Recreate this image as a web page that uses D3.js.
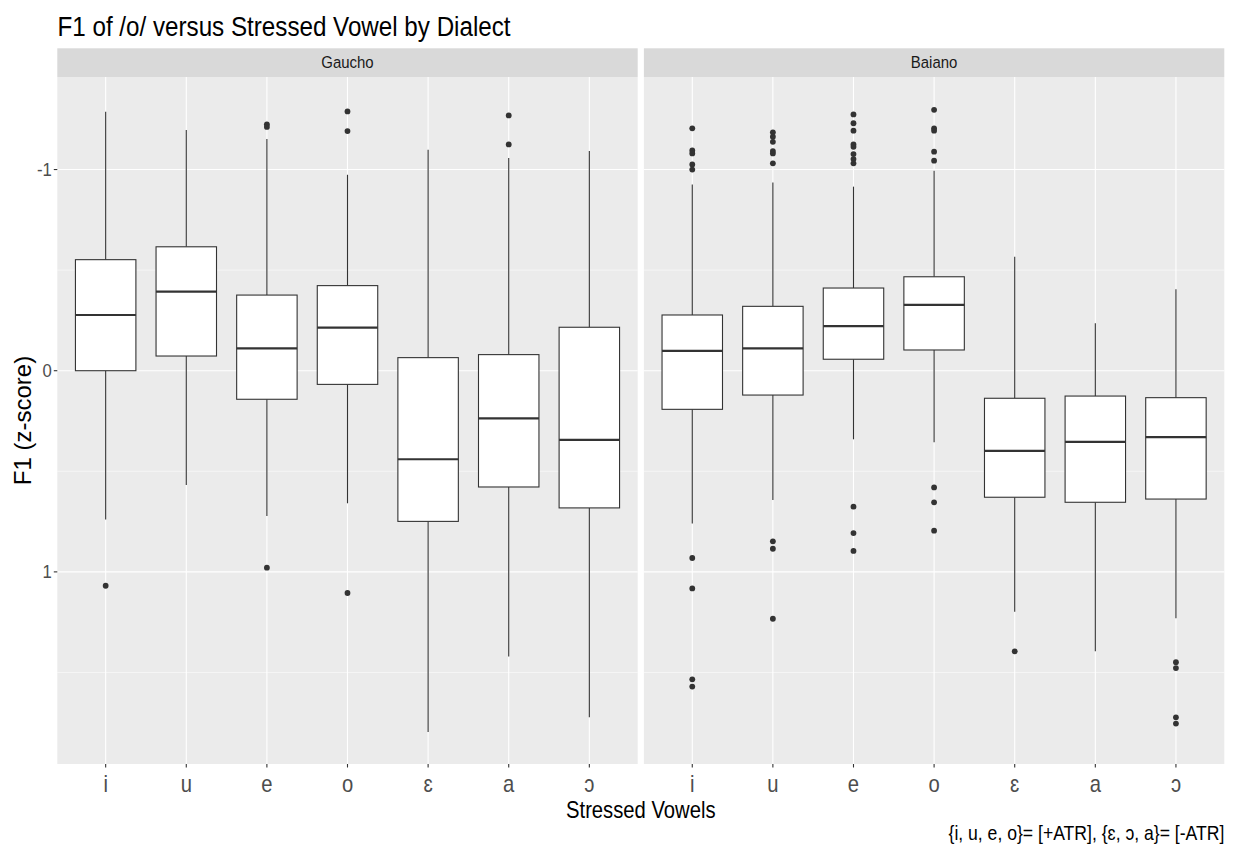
<!DOCTYPE html>
<html>
<head>
<meta charset="utf-8">
<script src="https://cdn.jsdelivr.net/npm/d3@7"></script>
<style>
  html, body { margin: 0; padding: 0; background: #ffffff; }
  svg { display: block; font-family: "Liberation Sans", Arial, sans-serif; }
</style>
</head>
<body>
<svg id="chart" width="1237" height="846"></svg>
<script>
// Stressed vowels on the x axis, one panel per dialect
const vowels = ["i", "u", "e", "o", "ɛ", "a", "ɔ"];
const dialects = ["Gaucho", "Baiano"];
const yTicks = [-1, 0, 1];
const yTickLabels = ["-1", "0", "1"];

// Box statistics (z-scored F1 of /o/), in vowel order
const gauchoLow    = [-1.287, -1.196, -1.152, -0.974, -1.098, -1.057, -1.092];
const gauchoQ1     = [-0.552, -0.616, -0.376, -0.423, -0.065, -0.080, -0.216];
const gauchoMedian = [-0.277, -0.393, -0.111, -0.214,  0.440,  0.237,  0.344];
const gauchoQ3     = [ 0.000, -0.073,  0.142,  0.068,  0.749,  0.578,  0.682];
const gauchoHigh   = [ 0.739,  0.568,  0.722,  0.659,  1.796,  1.421,  1.723];
const gauchoOutliers = [
  [1.069],
  [],
  [-1.225, -1.212, 0.979],
  [-1.289, -1.191, 1.105],
  [],
  [-1.269, -1.125],
  []
];

const baianoLow    = [-0.926, -0.936, -0.915, -0.994, -0.567, -0.236, -0.405];
const baianoQ1     = [-0.277, -0.320, -0.411, -0.467,  0.137,  0.126,  0.134];
const baianoMedian = [-0.099, -0.111, -0.222, -0.327,  0.398,  0.354,  0.330];
const baianoQ3     = [ 0.192,  0.121, -0.057, -0.103,  0.629,  0.654,  0.638];
const baianoHigh   = [ 0.759,  0.643,  0.341,  0.356,  1.198,  1.395,  1.231];
const baianoOutliers = [
  [-1.205, -1.095, -1.080, -1.025, -1.000, 0.931, 1.082, 1.534, 1.570],
  [-1.185, -1.163, -1.138, -1.092, -1.080, -1.031, 0.848, 0.885, 1.233],
  [-1.274, -1.230, -1.193, -1.125, -1.113, -1.077, -1.052, -1.031, 0.676, 0.807, 0.896],
  [-1.297, -1.205, -1.193, -1.089, -1.044, 0.580, 0.654, 0.795],
  [1.395],
  [],
  [1.449, 1.478, 1.723, 1.754]
];

const titleText = "F1 of /o/ versus Stressed Vowel by Dialect";
const xTitle = "Stressed Vowels";
const yTitle = "F1 (z-score)";
const captionText = "{i, u, e, o}= [+ATR], {ɛ, ɔ, a}= [-ATR]";

function boxRows(low, q1, med, q3, high, outs) {
  return vowels.map((v, i) => ({ vowel: v, low: low[i], q1: q1[i], med: med[i], q3: q3[i], high: high[i], outliers: outs[i] }));
}
const panelData = [
  boxRows(gauchoLow, gauchoQ1, gauchoMedian, gauchoQ3, gauchoHigh, gauchoOutliers),
  boxRows(baianoLow, baianoQ1, baianoMedian, baianoQ3, baianoHigh, baianoOutliers)
];

const svg = d3.select("#chart");
const squeeze = 0.88;   // condensed glyph width used for horizontal text

function label(sel, x, y, text, opts) {
  const g = sel.append("g").attr("transform", `translate(${x},${y}) scale(${opts.sx ?? squeeze},1)`);
  g.append("text")
    .attr("text-anchor", opts.anchor || "start")
    .attr("font-size", opts.size)
    .attr("fill", opts.fill || "#000")
    .text(text);
  return g;
}

const panelTop = 77, panelBottom = 764;
const panelX = [[57.3, 637.7], [643.9, 1224.3]];
const stripTop = 48.3;

const y = d3.scaleLinear().domain([-1.46, 1.955]).range([panelTop, panelBottom]);

// Title
label(svg, 57.5, 36, titleText, { size: 27.5, fill: "#000" });

dialects.forEach((dialect, p) => {
  const [x0, x1] = panelX[p];
  const x = d3.scalePoint().domain(vowels).range([x0, x1]).padding(0.6);
  const bw = x.step() * 0.75;
  const g = svg.append("g");

  // strip
  g.append("rect").attr("x", x0).attr("y", stripTop).attr("width", x1 - x0).attr("height", panelTop - stripTop).attr("fill", "#d9d9d9");
  label(g, (x0 + x1) / 2, 68, dialect, { size: 17, anchor: "middle", fill: "#1a1a1a" });

  // panel background
  g.append("rect").attr("x", x0).attr("y", panelTop).attr("width", x1 - x0).attr("height", panelBottom - panelTop).attr("fill", "#ebebeb");

  // minor grid
  g.selectAll(".minor").data([-0.5, 0.5, 1.5]).join("line")
    .attr("x1", x0).attr("x2", x1).attr("y1", d => y(d)).attr("y2", d => y(d))
    .attr("stroke", "#ffffff").attr("stroke-width", 0.55);
  // major grid
  g.selectAll(".majorY").data(yTicks).join("line")
    .attr("x1", x0).attr("x2", x1).attr("y1", d => y(d)).attr("y2", d => y(d))
    .attr("stroke", "#ffffff").attr("stroke-width", 1.1);
  g.selectAll(".majorX").data(vowels).join("line")
    .attr("x1", d => x(d)).attr("x2", d => x(d)).attr("y1", panelTop).attr("y2", panelBottom)
    .attr("stroke", "#ffffff").attr("stroke-width", 1.1);

  // x axis ticks and labels
  const xa = g.append("g").attr("transform", `translate(0,${panelBottom})`);
  xa.selectAll("line").data(vowels).join("line")
    .attr("x1", d => x(d)).attr("x2", d => x(d)).attr("y1", 0).attr("y2", 3.5)
    .attr("stroke", "#333333").attr("stroke-width", 1.1);
  vowels.forEach(v => label(xa, x(v), 28, v, { size: 23, anchor: "middle", fill: "#4d4d4d" }));

  // boxplots
  const rows = panelData[p];
  const bx = g.selectAll(".box").data(rows).join("g");
  bx.append("line")
    .attr("x1", d => x(d.vowel)).attr("x2", d => x(d.vowel))
    .attr("y1", d => y(d.low)).attr("y2", d => y(d.q1))
    .attr("stroke", "#333333").attr("stroke-width", 1.1);
  bx.append("line")
    .attr("x1", d => x(d.vowel)).attr("x2", d => x(d.vowel))
    .attr("y1", d => y(d.q3)).attr("y2", d => y(d.high))
    .attr("stroke", "#333333").attr("stroke-width", 1.1);
  bx.append("rect")
    .attr("x", d => x(d.vowel) - bw / 2).attr("width", bw)
    .attr("y", d => y(d.q1)).attr("height", d => y(d.q3) - y(d.q1))
    .attr("fill", "#ffffff").attr("stroke", "#333333").attr("stroke-width", 1.1);
  bx.append("line")
    .attr("x1", d => x(d.vowel) - bw / 2).attr("x2", d => x(d.vowel) + bw / 2)
    .attr("y1", d => y(d.med)).attr("y2", d => y(d.med))
    .attr("stroke", "#333333").attr("stroke-width", 2.2);
  bx.selectAll("circle").data(d => d.outliers.map(o => ({ vowel: d.vowel, v: o }))).join("circle")
    .attr("cx", d => x(d.vowel)).attr("cy", d => y(d.v)).attr("r", 2.9)
    .attr("fill", "#333333");
});

// y axis (left panel only)
const ya = svg.append("g").attr("transform", `translate(${panelX[0][0]},0)`);
ya.selectAll("line").data(yTicks).join("line")
  .attr("x1", -3.5).attr("x2", 0).attr("y1", d => y(d)).attr("y2", d => y(d))
  .attr("stroke", "#333333").attr("stroke-width", 1.1);
yTicks.forEach((t, i) => label(ya, -5.5, y(t) + 6.5, yTickLabels[i], { size: 19, anchor: "end", fill: "#4d4d4d" }));

// axis titles
label(svg, (panelX[0][0] + panelX[1][1]) / 2, 818, xTitle, { size: 23, anchor: "middle", fill: "#000" });
svg.append("text")
  .attr("transform", `translate(31,${(panelTop + panelBottom) / 2}) rotate(-90)`)
  .attr("text-anchor", "middle").attr("font-size", 24).attr("fill", "#000")
  .text(yTitle);

// caption
label(svg, panelX[1][1], 840, captionText, { size: 20, anchor: "end", fill: "#000" });
</script>
</body>
</html>
